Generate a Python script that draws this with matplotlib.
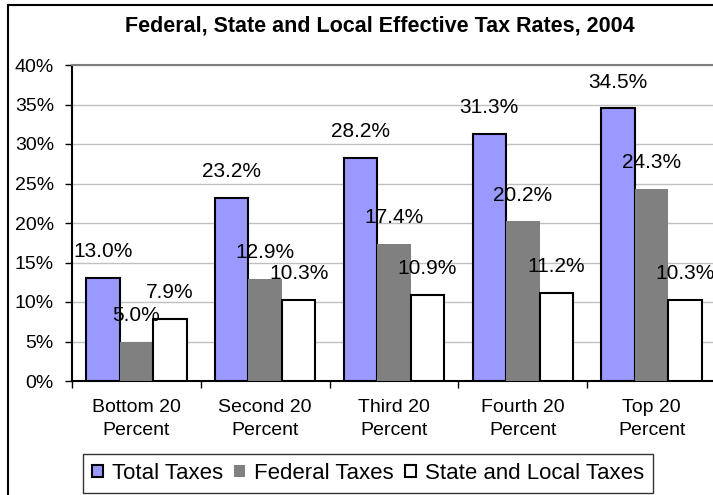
import matplotlib
matplotlib.use("Agg")
import matplotlib.pyplot as plt
from matplotlib.patches import Rectangle
from matplotlib.ticker import MultipleLocator, FuncFormatter
import numpy as np

plt.rcParams['font.family'] = ['Liberation Sans', 'DejaVu Sans']

# Income quintiles and effective tax rates (%)
categories = ["Bottom 20\nPercent", "Second 20\nPercent", "Third 20\nPercent",
              "Fourth 20\nPercent", "Top 20\nPercent"]
total_taxes = [13.0, 23.2, 28.2, 31.3, 34.5]
federal_taxes = [5.0, 12.9, 17.4, 20.2, 24.3]
state_local_taxes = [7.9, 10.3, 10.9, 11.2, 10.3]
series_names = ["Total Taxes", "Federal Taxes", "State and Local Taxes"]

W, H = 713, 495
fig = plt.figure(figsize=(W / 100, H / 100), dpi=100)

# plot area in pixel terms
left, right, top, bottom = 72, 716, 65, 381
ax = fig.add_axes([left / W, 1 - bottom / H, (right - left) / W, (bottom - top) / H])

x = np.arange(len(categories))
bw = 0.26
styles = [
    dict(color="#9999FF", edgecolor="black", linewidth=1.5),
    dict(color="#808080", edgecolor="none", linewidth=0),
    dict(color="white", edgecolor="black", linewidth=1.5),
]
series = [total_taxes, federal_taxes, state_local_taxes]
offsets = [-bw, 0, bw]

for vals, off, st, name in zip(series, offsets, styles, series_names):
    ax.bar(x + off, vals, width=bw, label=name, zorder=3, **st)
    for xi, v in zip(x + off, vals):
        ax.annotate(f"{v:.1f}%", xy=(xi, v), xytext=(0, 19),
                    textcoords="offset points", ha="center", va="center",
                    fontsize=15, color="black", zorder=5)

ax.set_xlim(-0.5, 4.5)
ax.set_ylim(0, 40)
ax.yaxis.set_major_locator(MultipleLocator(5))
ax.yaxis.set_major_formatter(FuncFormatter(lambda v, p: f"{v:.0f}%"))
ax.grid(axis="y", color="#c0c0c0", linewidth=1, zorder=0)
ax.set_axisbelow(True)

ax.set_xticks(x)
ax.set_xticklabels(categories, fontsize=14, linespacing=1.45)
ax.set_xticks(np.arange(-0.5, 5.0, 1.0), minor=True)
ax.tick_params(axis="x", which="major", length=0, pad=13)
ax.tick_params(axis="x", which="minor", length=5, width=1, direction="out")
ax.tick_params(axis="y", labelsize=14, length=5, width=1, pad=8, direction="out")

for s in ("left", "bottom"):
    ax.spines[s].set_color("black")
    ax.spines[s].set_linewidth(1.5)
ax.spines["top"].set_color("#808080")
ax.spines["top"].set_linewidth(1.5)
ax.spines["right"].set_visible(False)

fig.text(380 / W, 1 - 26 / H, "Federal, State and Local Effective Tax Rates, 2004",
         ha="center", va="center", fontsize=15.5, fontweight="bold")

leg = fig.legend(loc="upper left", bbox_to_anchor=(83 / W, 1 - 454 / H),
                 ncol=3, fontsize=16, frameon=True, fancybox=False,
                 handlelength=0.5, handleheight=0.5, handletextpad=0.4,
                 columnspacing=0.5, borderpad=0.4, borderaxespad=0)
leg.get_frame().set_edgecolor("black")
leg.get_frame().set_linewidth(1.0)

# chart border
fig.add_artist(Rectangle((7.5 / W, -0.05), 1.2, 1.05 - 4.5 / H,
                         transform=fig.transFigure, fill=False,
                         edgecolor="black", linewidth=1.5, clip_on=False))

fig.savefig("out.png", dpi=100)
